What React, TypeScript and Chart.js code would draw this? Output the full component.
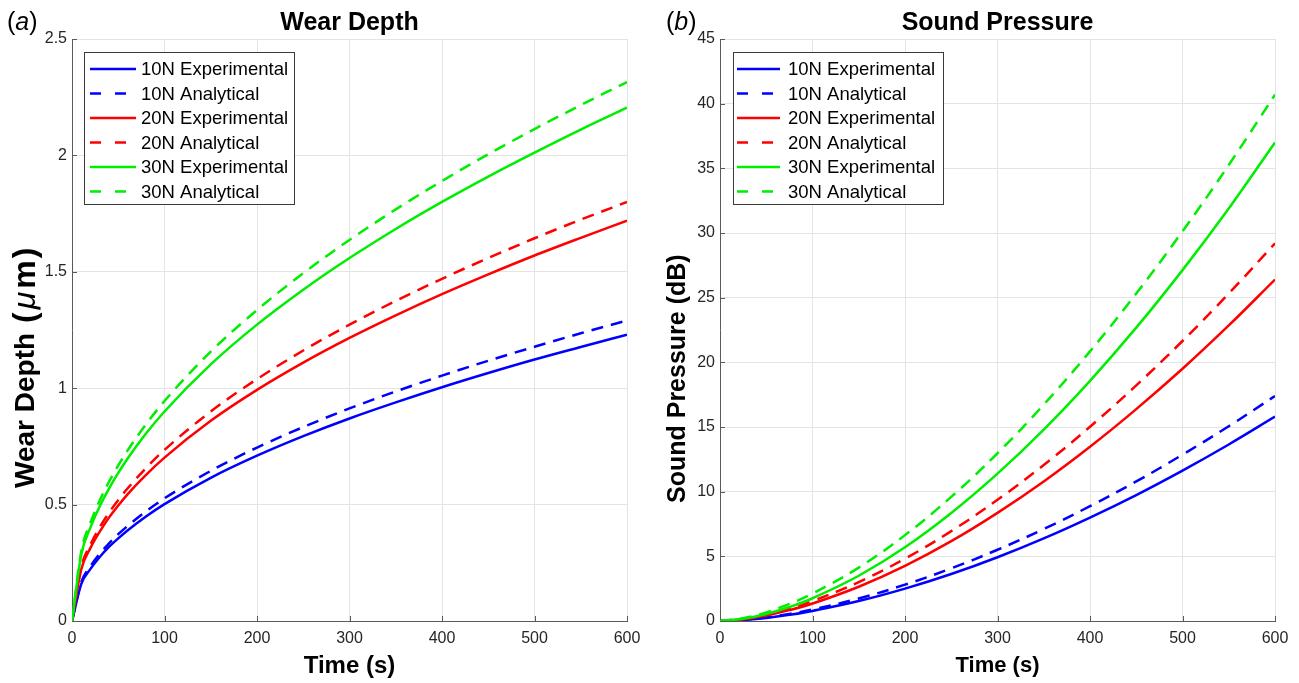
import React, { useEffect, useRef } from 'react';
import { Chart, registerables } from 'chart.js';

Chart.register(...registerables);

const FONT = "'Liberation Sans', Arial, Helvetica, sans-serif";

// ---------- Data: Wear Depth (µm) ----------
const wearTime = [0, 10, 20, 30, 40, 50, 60, 80, 100, 150, 200, 250, 300, 350, 400, 450, 500, 550, 600];
const wear10Exp = [0, 0.159, 0.224, 0.275, 0.318, 0.355, 0.389, 0.449, 0.502, 0.615, 0.71, 0.794, 0.87, 0.939, 1.004, 1.065, 1.123, 1.177, 1.23];
const wear10Ana = [0, 0.167, 0.236, 0.289, 0.333, 0.373, 0.408, 0.471, 0.527, 0.645, 0.745, 0.833, 0.913, 0.986, 1.054, 1.118, 1.178, 1.236, 1.291];
const wear20Exp = [0, 0.222, 0.314, 0.384, 0.444, 0.496, 0.544, 0.628, 0.702, 0.86, 0.993, 1.11, 1.216, 1.313, 1.404, 1.489, 1.57, 1.646, 1.72];
const wear20Ana = [0, 0.232, 0.329, 0.403, 0.465, 0.52, 0.569, 0.657, 0.735, 0.9, 1.039, 1.162, 1.273, 1.375, 1.47, 1.559, 1.644, 1.724, 1.8];
const wear30Exp = [0, 0.285, 0.402, 0.493, 0.569, 0.636, 0.697, 0.805, 0.9, 1.102, 1.273, 1.423, 1.559, 1.684, 1.8, 1.909, 2.012, 2.111, 2.205];
const wear30Ana = [0, 0.299, 0.423, 0.518, 0.598, 0.668, 0.732, 0.845, 0.945, 1.157, 1.336, 1.494, 1.637, 1.768, 1.89, 2.005, 2.113, 2.216, 2.315];

// ---------- Data: Sound Pressure (dB) ----------
const soundTime = [0, 25, 50, 75, 100, 150, 200, 250, 300, 350, 400, 450, 500, 550, 600];
const sound10Exp = [0, 0.08, 0.24, 0.48, 0.78, 1.54, 2.5, 3.63, 4.93, 6.39, 8.0, 9.74, 11.63, 13.65, 15.8];
const sound10Ana = [0, 0.09, 0.28, 0.55, 0.89, 1.74, 2.81, 4.07, 5.51, 7.11, 8.88, 10.79, 12.86, 15.06, 17.4];
const sound20Exp = [0, 0.14, 0.43, 0.84, 1.35, 2.65, 4.26, 6.17, 8.36, 10.79, 13.47, 16.38, 19.5, 22.85, 26.4];
const sound20Ana = [0, 0.16, 0.5, 0.96, 1.54, 3.01, 4.82, 6.95, 9.37, 12.06, 15.02, 18.22, 21.65, 25.32, 29.2];
const sound30Exp = [0, 0.17, 0.54, 1.08, 1.76, 3.5, 5.7, 8.35, 11.39, 14.8, 18.57, 22.68, 27.13, 31.9, 37.0];
const sound30Ana = [0, 0.22, 0.67, 1.32, 2.12, 4.13, 6.64, 9.6, 12.97, 16.73, 20.85, 25.32, 30.13, 35.26, 40.7];

// ---------- Series meta ----------
const seriesLabels = ['10N Experimental', '10N Analytical', '20N Experimental', '20N Analytical', '30N Experimental', '30N Analytical'];
const seriesColors = ['#0000ff', '#0000ff', '#ff0000', '#ff0000', '#00ee00', '#00ee00'];
const seriesDashed = [false, true, false, true, false, true];

const timeMin = 0;
const timeMax = 600;
const timeStep = 100;

type Piece = { text: string; font: string; gap?: number };

type Deco = {
  panel: { x: number; y: number; letter: string };
  yTitle: { cx: number; bottom: number; pieces: Piece[] };
  legend: { x: number; y: number; w: number; h: number; sx1: number; sx2: number; tx: number; row0: number; step: number };
};

function makeDeco(d: Deco) {
  return {
    id: 'deco',
    beforeDatasetsDraw(chart: any) {
      const ctx = chart.ctx;
      const { left, bottom } = chart.chartArea;
      const xs = chart.scales.x;
      const ys = chart.scales.y;
      ctx.save();
      ctx.strokeStyle = '#595959';
      ctx.lineWidth = 1;
      ctx.beginPath();
      xs.ticks.forEach((t: any) => {
        const px = Math.round(xs.getPixelForValue(t.value)) + 0.5;
        ctx.moveTo(px, bottom);
        ctx.lineTo(px, bottom - 5);
      });
      ys.ticks.forEach((t: any) => {
        const py = Math.round(ys.getPixelForValue(t.value)) + 0.5;
        ctx.moveTo(left, py);
        ctx.lineTo(left + 5, py);
      });
      ctx.stroke();
      ctx.restore();
    },
    afterDraw(chart: any) {
      const ctx = chart.ctx;
      ctx.save();
      // panel label
      ctx.fillStyle = '#000';
      ctx.textBaseline = 'middle';
      ctx.textAlign = 'left';
      let px = d.panel.x;
      const parts: Piece[] = [
        { text: '(', font: `25px ${FONT}` },
        { text: d.panel.letter, font: `italic 25px ${FONT}` },
        { text: ')', font: `25px ${FONT}` },
      ];
      parts.forEach((p) => {
        ctx.font = p.font;
        ctx.fillText(p.text, px, d.panel.y);
        px += ctx.measureText(p.text).width;
      });

      // y axis title (rotated, starting from the bottom)
      ctx.save();
      ctx.translate(d.yTitle.cx, d.yTitle.bottom);
      ctx.rotate(-Math.PI / 2);
      let tx = 0;
      d.yTitle.pieces.forEach((p) => {
        ctx.font = p.font;
        ctx.fillText(p.text, tx, 0);
        tx += ctx.measureText(p.text).width + (p.gap || 0);
      });
      ctx.restore();

      // legend
      const L = d.legend;
      ctx.fillStyle = '#ffffff';
      ctx.fillRect(L.x, L.y, L.w, L.h);
      ctx.strokeStyle = '#3a3a3a';
      ctx.lineWidth = 1;
      ctx.strokeRect(L.x + 0.5, L.y + 0.5, L.w, L.h);
      chart.data.datasets.forEach((ds: any, i: number) => {
        const ry = L.row0 + i * L.step;
        ctx.save();
        ctx.strokeStyle = ds.borderColor;
        ctx.lineWidth = 2.5;
        ctx.setLineDash(ds.borderDash && ds.borderDash.length ? [11, 14] : []);
        ctx.beginPath();
        ctx.moveTo(L.sx1, ry);
        ctx.lineTo(L.sx2, ry);
        ctx.stroke();
        ctx.restore();
        ctx.fillStyle = '#000';
        ctx.font = `18.5px ${FONT}`;
        ctx.textBaseline = 'middle';
        ctx.fillText(ds.label, L.tx, ry + 1);
      });
      ctx.restore();
    },
  };
}

type Params = {
  title: string;
  time: number[];
  series: number[][];
  yMax: number;
  yStep: number;
  yAxisWidth: number;
  rightPad: number;
  xTitleSize: number;
  xTitlePadBottom: number;
  interp: 'monotone' | 'default';
  deco: Deco;
};

function buildConfig(p: Params): any {
  const datasets = p.series.map((vals, i) => ({
    label: seriesLabels[i],
    data: vals.map((y, j) => ({ x: p.time[j], y })),
    borderColor: seriesColors[i],
    backgroundColor: seriesColors[i],
    borderWidth: 2.5,
    borderDash: seriesDashed[i] ? [12, 8] : [],
    pointRadius: 0,
    fill: false,
    cubicInterpolationMode: p.interp,
    tension: 0.4,
    order: 10 - i,
  }));
  return {
    type: 'line',
    data: { datasets },
    options: {
      animation: false,
      responsive: false,
      maintainAspectRatio: false,
      devicePixelRatio: 1,
      events: [],
      layout: { padding: { left: 0, right: p.rightPad, top: 0, bottom: 0 } },
      plugins: {
        legend: { display: false },
        tooltip: { enabled: false },
        title: {
          display: true,
          text: p.title,
          fullSize: false,
          color: '#000',
          font: { family: FONT, size: 25, weight: 'bold', lineHeight: 1.2 },
          padding: { top: 8, bottom: 1 },
        },
      },
      scales: {
        x: {
          type: 'linear',
          min: timeMin,
          max: timeMax,
          ticks: {
            stepSize: timeStep,
            color: '#262626',
            font: { family: FONT, size: 16 },
            padding: 8,
            maxRotation: 0,
            callback: (v: number) => `${v}`,
          },
          grid: { color: '#e4e4e4', drawTicks: false, lineWidth: 1 },
          border: { color: '#595959', width: 1 },
          title: {
            display: true,
            text: 'Time (s)',
            color: '#000',
            font: { family: FONT, size: p.xTitleSize, weight: 'bold', lineHeight: 1.2 },
            padding: { top: 0, bottom: p.xTitlePadBottom },
          },
          afterFit: (s: any) => {
            s.height = 62;
          },
        },
        y: {
          type: 'linear',
          min: 0,
          max: p.yMax,
          ticks: {
            stepSize: p.yStep,
            color: '#262626',
            font: { family: FONT, size: 16 },
            padding: 5,
            callback: (v: number) => `${v}`,
          },
          grid: { color: '#e4e4e4', drawTicks: false, lineWidth: 1 },
          border: { color: '#595959', width: 1 },
          title: { display: false },
          afterFit: (s: any) => {
            s.width = p.yAxisWidth;
          },
        },
      },
    },
    plugins: [makeDeco(p.deco)],
  };
}

const legendBox = { x: 84, y: 52, w: 210, h: 152, row0: 69, step: 24.5 };

export default function App() {
  const leftRef = useRef<HTMLCanvasElement | null>(null);
  const rightRef = useRef<HTMLCanvasElement | null>(null);

  useEffect(() => {
    const left = new Chart(
      leftRef.current as HTMLCanvasElement,
      buildConfig({
        title: 'Wear Depth',
        time: wearTime,
        series: [wear10Exp, wear10Ana, wear20Exp, wear20Ana, wear30Exp, wear30Ana],
        yMax: 2.5,
        yStep: 0.5,
        yAxisWidth: 72,
        rightPad: 23,
        xTitleSize: 24,
        xTitlePadBottom: 2,
        interp: 'monotone',
        deco: {
          panel: { x: 7, y: 23, letter: 'a' },
          yTitle: {
            cx: 26,
            bottom: 488,
            pieces: [
              { text: 'Wear Depth', font: `bold 28px ${FONT}`, gap: 10 },
              { text: '(', font: `bold 32px ${FONT}`, gap: 3 },
              { text: 'μ', font: `italic 32px ${FONT}`, gap: 3 },
              { text: 'm', font: `bold 32px ${FONT}`, gap: 2 },
              { text: ')', font: `bold 32px ${FONT}` },
            ],
          },
          legend: { ...legendBox, sx1: 90, sx2: 136, tx: 141 },
        },
      })
    );
    const right = new Chart(
      rightRef.current as HTMLCanvasElement,
      buildConfig({
        title: 'Sound Pressure',
        time: soundTime,
        series: [sound10Exp, sound10Ana, sound20Exp, sound20Ana, sound30Exp, sound30Ana],
        yMax: 45,
        yStep: 5,
        yAxisWidth: 71,
        rightPad: 24,
        xTitleSize: 22,
        xTitlePadBottom: 4,
        interp: 'default',
        deco: {
          panel: { x: 17, y: 23, letter: 'b' },
          yTitle: {
            cx: 29,
            bottom: 503,
            pieces: [{ text: 'Sound Pressure (dB)', font: `bold 25px ${FONT}` }],
          },
          legend: { ...legendBox, sx1: 88, sx2: 131, tx: 139 },
        },
      })
    );
    return () => {
      left.destroy();
      right.destroy();
    };
  }, []);

  return (
    <div style={{ position: 'fixed', left: 0, top: 0, width: 1299, height: 683, background: '#fff', overflow: 'hidden' }}>
      <canvas ref={leftRef} width={650} height={683} style={{ position: 'absolute', left: 0, top: 0 }} />
      <canvas ref={rightRef} width={650} height={683} style={{ position: 'absolute', left: 649, top: 0 }} />
    </div>
  );
}
